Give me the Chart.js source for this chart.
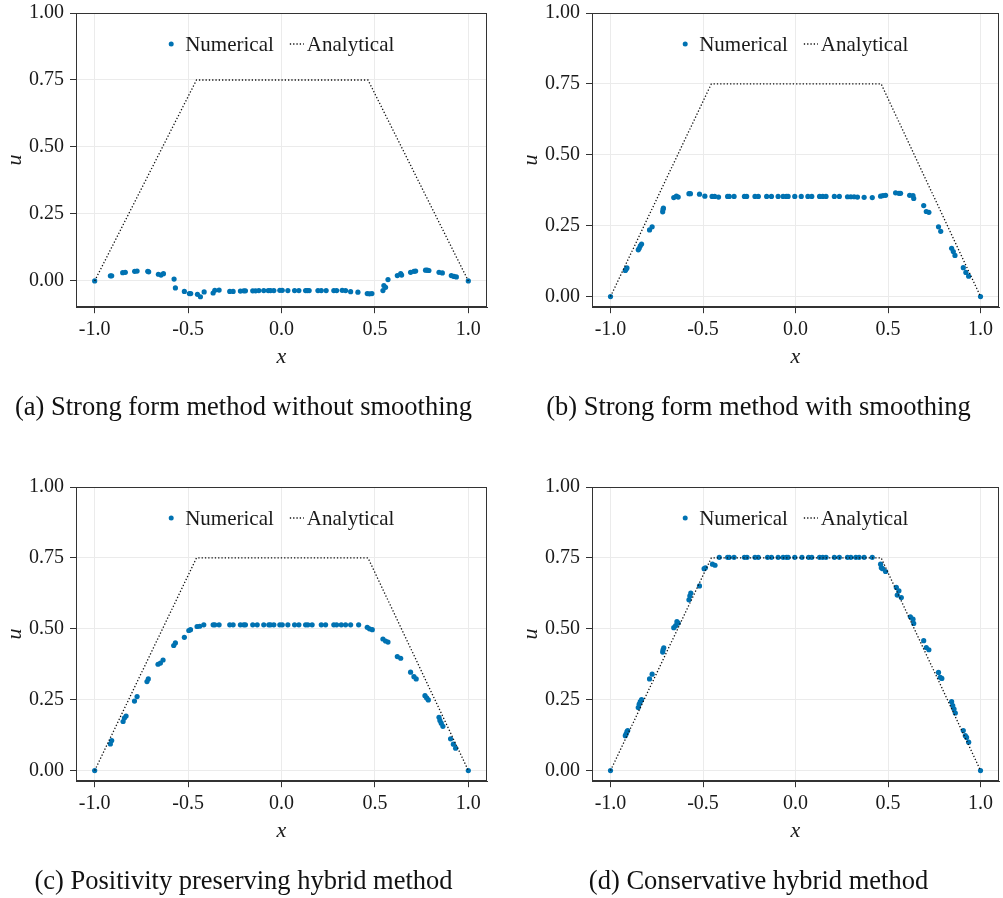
<!DOCTYPE html>
<html>
<head>
<meta charset="utf-8">
<script src="https://cdn.jsdelivr.net/npm/chart.js@4/dist/chart.umd.min.js"></script>
<style>
  html, body { margin: 0; padding: 0; background: #fff; overflow: hidden; }
  #page { position: relative; width: 1003px; height: 898px; overflow: hidden; }
  canvas { position: absolute; }
</style>
</head>
<body>
<div id="page">
  <canvas id="panelA" width="495" height="430" style="left:0px;top:0px"></canvas>
  <canvas id="panelB" width="487" height="430" style="left:516px;top:0px"></canvas>
  <canvas id="panelC" width="495" height="430" style="left:0px;top:474px"></canvas>
  <canvas id="panelD" width="487" height="430" style="left:516px;top:474px"></canvas>
</div>
<script>
// tick labels
const xTicks = [-1, -0.5, 0, 0.5, 1];
const uTicks = [0, 0.25, 0.5, 0.75, 1];

// analytical solution (same in every panel)
const exactX = [-1, -0.455, 0.463, 1];
const exactU = [0, 0.75, 0.75, 0];

// (a) strong form, no smoothing
const xA = [-1.000, -0.916, -0.909, -0.850, -0.836, -0.786, -0.773, -0.716, -0.711, -0.659, -0.645, -0.632,
  -0.575, -0.568, -0.520, -0.493, -0.486, -0.450, -0.434, -0.414, -0.366, -0.357, -0.334, -0.277, -0.259,
  -0.220, -0.202, -0.193, -0.154, -0.139, -0.121, -0.095, -0.071, -0.059, -0.041, -0.009, 0.004, 0.034,
  0.070, 0.093, 0.129, 0.138, 0.148, 0.195, 0.213, 0.239, 0.280, 0.295, 0.325, 0.343, 0.370, 0.409,
  0.459, 0.471, 0.484, 0.543, 0.548, 0.557, 0.570, 0.620, 0.638, 0.643, 0.691, 0.709, 0.718, 0.771,
  0.780, 0.789, 0.843, 0.861, 0.909, 0.923, 0.936, 1.000];
const uA = [0.000, 0.019, 0.019, 0.031, 0.032, 0.036, 0.037, 0.036, 0.034, 0.025, 0.022, 0.027,
  0.007, -0.026, -0.039, -0.047, -0.047, -0.050, -0.059, -0.041, -0.045, -0.035, -0.034, -0.039, -0.039,
  -0.038, -0.037, -0.037, -0.037, -0.037, -0.036, -0.036, -0.036, -0.036, -0.036, -0.035, -0.035, -0.036,
  -0.036, -0.036, -0.036, -0.036, -0.036, -0.036, -0.036, -0.036, -0.036, -0.036, -0.035, -0.036, -0.040, -0.042,
  -0.047, -0.048, -0.047, -0.036, -0.017, -0.024, 0.005, 0.020, 0.027, 0.022, 0.032, 0.036, 0.037, 0.040,
  0.040, 0.039, 0.032, 0.030, 0.020, 0.017, 0.015, 0.000];

// (b) strong form, with smoothing
const xB = [-1.000, -0.920, -0.916, -0.911, -0.850, -0.845, -0.839, -0.832, -0.789, -0.775, -0.718, -0.716,
  -0.714, -0.658, -0.644, -0.634, -0.576, -0.568, -0.519, -0.490, -0.451, -0.437, -0.416, -0.367, -0.358,
  -0.332, -0.276, -0.264, -0.219, -0.201, -0.156, -0.130, -0.094, -0.067, -0.049, -0.040, -0.004, 0.031,
  0.067, 0.088, 0.130, 0.147, 0.165, 0.210, 0.237, 0.281, 0.299, 0.317, 0.335, 0.371, 0.415, 0.460,
  0.473, 0.487, 0.541, 0.559, 0.568, 0.617, 0.635, 0.639, 0.693, 0.707, 0.721, 0.773, 0.785, 0.844,
  0.853, 0.862, 0.907, 0.921, 0.936, 1.000];
const uB = [0.000, 0.092, 0.096, 0.101, 0.165, 0.170, 0.179, 0.185, 0.235, 0.246, 0.299, 0.308,
  0.312, 0.349, 0.354, 0.351, 0.363, 0.363, 0.361, 0.354, 0.353, 0.353, 0.351, 0.353, 0.353,
  0.353, 0.353, 0.353, 0.353, 0.353, 0.353, 0.353, 0.353, 0.353, 0.353, 0.353, 0.353, 0.353,
  0.353, 0.353, 0.353, 0.353, 0.353, 0.353, 0.353, 0.352, 0.352, 0.352, 0.351, 0.350, 0.349, 0.354,
  0.356, 0.357, 0.366, 0.364, 0.364, 0.357, 0.356, 0.346, 0.321, 0.300, 0.297, 0.246, 0.230, 0.170,
  0.159, 0.145, 0.102, 0.085, 0.072, 0.000];

// (c) positivity preserving hybrid
const xC = [-1.000, -0.916, -0.909, -0.848, -0.841, -0.832, -0.787, -0.773, -0.720, -0.713, -0.661, -0.648,
  -0.634, -0.577, -0.568, -0.520, -0.496, -0.487, -0.452, -0.438, -0.416, -0.366, -0.357, -0.334, -0.277,
  -0.259, -0.220, -0.202, -0.193, -0.154, -0.130, -0.095, -0.068, -0.059, -0.041, -0.009, 0.004, 0.034,
  0.070, 0.093, 0.129, 0.141, 0.164, 0.213, 0.236, 0.280, 0.295, 0.320, 0.343, 0.370, 0.413, 0.459,
  0.471, 0.486, 0.543, 0.557, 0.570, 0.620, 0.638, 0.691, 0.709, 0.721, 0.768, 0.777, 0.786, 0.843,
  0.848, 0.855, 0.864, 0.905, 0.920, 0.932, 1.000];
const uC = [0.000, 0.094, 0.106, 0.173, 0.185, 0.192, 0.245, 0.261, 0.314, 0.323, 0.375, 0.379,
  0.390, 0.441, 0.450, 0.470, 0.494, 0.497, 0.508, 0.509, 0.514, 0.514, 0.514, 0.514, 0.514,
  0.514, 0.514, 0.514, 0.514, 0.514, 0.514, 0.514, 0.514, 0.514, 0.514, 0.514, 0.514, 0.514,
  0.514, 0.514, 0.514, 0.514, 0.514, 0.514, 0.514, 0.514, 0.514, 0.514, 0.514, 0.514, 0.514, 0.505,
  0.500, 0.497, 0.464, 0.457, 0.453, 0.402, 0.396, 0.347, 0.331, 0.323, 0.264, 0.256, 0.249, 0.188,
  0.177, 0.167, 0.156, 0.112, 0.093, 0.079, 0.000];

// (d) conservative hybrid
const xD = [-1.000, -0.920, -0.916, -0.911, -0.907, -0.850, -0.845, -0.839, -0.832, -0.789, -0.775, -0.718,
  -0.716, -0.712, -0.658, -0.648, -0.641, -0.634, -0.576, -0.571, -0.566, -0.519, -0.494, -0.487, -0.449,
  -0.435, -0.412, -0.367, -0.358, -0.332, -0.276, -0.262, -0.219, -0.201, -0.151, -0.130, -0.094, -0.067,
  -0.049, -0.040, -0.004, 0.035, 0.071, 0.088, 0.130, 0.147, 0.165, 0.210, 0.237, 0.281, 0.299, 0.326,
  0.344, 0.371, 0.415, 0.460, 0.464, 0.471, 0.487, 0.545, 0.550, 0.559, 0.572, 0.621, 0.635, 0.639,
  0.693, 0.707, 0.721, 0.773, 0.782, 0.791, 0.844, 0.850, 0.857, 0.864, 0.907, 0.918, 0.925, 0.936, 1.000];
const uD = [0.000, 0.123, 0.129, 0.137, 0.141, 0.222, 0.234, 0.243, 0.250, 0.323, 0.340, 0.418,
  0.426, 0.433, 0.504, 0.511, 0.525, 0.520, 0.602, 0.616, 0.626, 0.651, 0.712, 0.715, 0.728,
  0.724, 0.752, 0.752, 0.752, 0.752, 0.752, 0.752, 0.752, 0.752, 0.752, 0.752, 0.752, 0.752,
  0.752, 0.752, 0.752, 0.752, 0.752, 0.752, 0.752, 0.752, 0.752, 0.752, 0.752, 0.752, 0.752, 0.752,
  0.752, 0.752, 0.752, 0.728, 0.715, 0.712, 0.702, 0.646, 0.619, 0.634, 0.610, 0.542, 0.534, 0.519,
  0.458, 0.434, 0.426, 0.346, 0.329, 0.325, 0.243, 0.229, 0.217, 0.203, 0.141, 0.123, 0.117, 0.100, 0.000];

const ink = "#1a1a1a";
Chart.defaults.font.family = '"Liberation Serif", "DejaVu Serif", serif';
Chart.defaults.color = ink;

// legend drawn inside the plot box, top centre
const innerLegend = {
  id: "innerLegend",
  afterDraw(chart) {
    const { ctx, chartArea } = chart;
    const sets = chart.data.datasets;
    const y = chartArea.top + 32;
    ctx.save();
    ctx.font = '21px "Liberation Serif", serif';
    ctx.textBaseline = "middle";
    const w1 = ctx.measureText(sets[0].label).width;
    const w2 = ctx.measureText(sets[1].label).width;
    const total = 2.5 + 14 + w1 + 16 + 14 + 3 + w2;
    let x = (chartArea.left + chartArea.right) / 2 - total / 2 + 2.5;
    ctx.fillStyle = sets[0].pointBackgroundColor;
    ctx.beginPath();
    ctx.arc(x, y - 1, 2.5, 0, Math.PI * 2);
    ctx.fill();
    x += 14;
    ctx.fillStyle = ink;
    ctx.fillText(sets[0].label, x, y);
    x += w1 + 16;
    ctx.strokeStyle = sets[1].borderColor;
    ctx.lineWidth = sets[1].borderWidth;
    ctx.setLineDash(sets[1].borderDash);
    ctx.beginPath();
    ctx.moveTo(x, y - 1);
    ctx.lineTo(x + 14, y - 1);
    ctx.stroke();
    ctx.setLineDash([]);
    x += 17;
    ctx.fillText(sets[1].label, x, y);
    ctx.restore();
  }
};

// full frame round the plot area
const frame = {
  id: "frame",
  afterDraw(chart) {
    const { ctx, chartArea: a } = chart;
    ctx.save();
    ctx.strokeStyle = "#333";
    ctx.lineWidth = 1;
    const l = Math.round(a.left) + 0.5, t = Math.round(a.top) + 0.5;
    const r = Math.round(a.right) - 0.5, b = Math.round(a.bottom) - 0.5;
    ctx.strokeRect(l, t, r - l, b - t);
    ctx.restore();
  }
};

function points(xs, ys) {
  return xs.map((x, i) => ({ x: x, y: ys[i] }));
}

function makePanel(id, xs, us, uMin, caption, padRight) {
  new Chart(document.getElementById(id), {
    type: "scatter",
    data: {
      datasets: [
        {
          label: "Numerical",
          data: points(xs, us),
          pointRadius: 2.6,
          pointBackgroundColor: "#0072b2",
          pointBorderWidth: 0,
          showLine: false,
          order: 1
        },
        {
          label: "Analytical",
          data: points(exactX, exactU),
          showLine: true,
          pointRadius: 0,
          borderColor: "#111",
          borderWidth: 1.3,
          borderDash: [1.3, 2],
          order: 0
        }
      ]
    },
    options: {
      responsive: false,
      animation: false,
      events: [],
      layout: { padding: { top: 13, right: padRight, left: 0, bottom: 0 } },
      scales: {
        x: {
          type: "linear",
          min: -1.1,
          max: 1.1,
          afterBuildTicks: s => { s.ticks = xTicks.map(v => ({ value: v })); },
          afterFit: s => { s.height = 68; s.paddingLeft = 0; s.paddingRight = 0; },
          ticks: { callback: v => v.toFixed(1), font: { size: 20 }, padding: 5, maxRotation: 0 },
          grid: { color: "#ebebeb", tickColor: "#333", tickLength: 6 },
          border: { color: "#333" },
          title: { display: true, text: "x", font: { size: 22, style: "italic" }, padding: { top: 0, bottom: 5 } }
        },
        y: {
          min: uMin,
          max: 1,
          afterBuildTicks: s => { s.ticks = uTicks.map(v => ({ value: v })); },
          afterFit: s => { s.width = 76; s.paddingTop = 0; s.paddingBottom = 0; },
          ticks: { callback: v => v.toFixed(2), font: { size: 20 }, padding: 6 },
          grid: { color: "#ebebeb", tickColor: "#333", tickLength: 6 },
          border: { color: "#333" },
          title: { display: true, text: "u", font: { size: 22, style: "italic" }, padding: { top: 2, bottom: 0 } }
        }
      },
      plugins: {
        legend: { display: false },
        tooltip: { enabled: false },
        title: {
          display: true,
          position: "bottom",
          text: caption,
          color: "#111",
          font: { size: 26.5, weight: "normal" },
          padding: { top: 17, bottom: 6 }
        }
      }
    },
    plugins: [frame, innerLegend]
  });
}

makePanel("panelA", xA, uA, -0.098, "(a) Strong form method without smoothing", 8);
makePanel("panelB", xB, uB, -0.0375, "(b) Strong form method with smoothing", 2);
makePanel("panelC", xC, uC, -0.0375, "(c) Positivity preserving hybrid method", 8);
makePanel("panelD", xD, uD, -0.0375, "(d) Conservative hybrid method", 2);
</script>
</body>
</html>
